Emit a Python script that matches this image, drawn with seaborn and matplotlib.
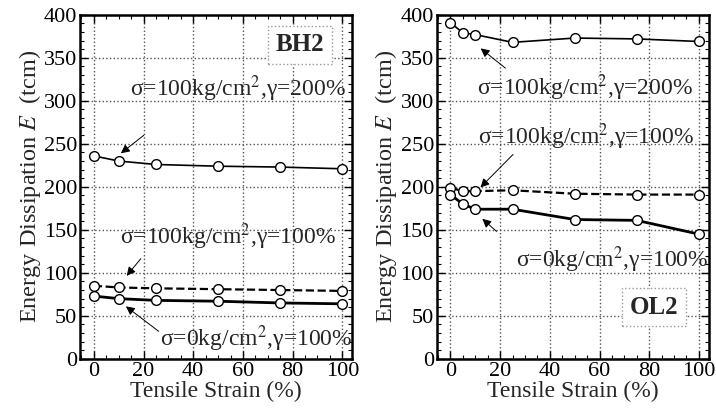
import numpy as np
import pandas as pd
import seaborn as sns
import matplotlib.pyplot as plt
from matplotlib.ticker import MultipleLocator

sns.set_style("ticks")
plt.rcParams['font.family'] = ['Liberation Serif', 'DejaVu Serif']
plt.rcParams['mathtext.fontset'] = 'stix'

# BH2 data
bh2_strain = [0, 10, 25, 50, 75, 100]
bh2_s100_g200 = [236, 230, 226, 224, 223, 221]
bh2_s100_g100 = [85, 83, 82, 81, 80, 79]
bh2_s0_g100 = [73, 70, 68, 67, 65, 64]

# OL2 data
ol2_strain = [0, 5, 10, 25, 50, 75, 100]
ol2_s100_g200 = [391, 379, 377, 368, 373, 372, 369]
ol2_s100_g100 = [199, 195, 195, 196, 192, 191, 191]
ol2_s0_g100 = [191, 180, 174, 174, 162, 161, 145]

lab_200 = r'σ=100kg/cm$^2$,γ=200%'
lab_100 = r'σ=100kg/cm$^2$,γ=100%'
lab_0 = r'σ=0kg/cm$^2$,γ=100%'

fig = plt.figure(figsize=(7.16, 4.12), dpi=100)
ax1 = fig.add_axes([0.112, 0.129, 0.380, 0.835])
ax2 = fig.add_axes([0.610, 0.129, 0.380, 0.835])

mk = dict(marker='o', markersize=7, markerfacecolor='white',
          markeredgecolor='black', markeredgewidth=1.0, color='black')


def draw(ax, x, a, b, c):
    sns.lineplot(x=x, y=a, ax=ax, linewidth=1.2, **mk)
    sns.lineplot(x=x, y=b, ax=ax, linewidth=1.6, linestyle='--', **mk)
    sns.lineplot(x=x, y=c, ax=ax, linewidth=2.0, **mk)
    ax.set_xlim(-5.5, 104)
    ax.set_ylim(0, 400)
    ax.xaxis.set_major_locator(MultipleLocator(20))
    ax.xaxis.set_minor_locator(MultipleLocator(5))
    ax.yaxis.set_major_locator(MultipleLocator(50))
    ax.yaxis.set_minor_locator(MultipleLocator(10))
    ax.tick_params(which='both', direction='in', top=True, right=True,
                   labelsize=16, pad=2, colors='black')
    ax.tick_params(which='major', length=6, width=1)
    ax.tick_params(which='minor', length=3, width=0.8)
    ax.grid(True, which='major', linestyle=':', color='#555555', linewidth=1.0)
    for s in ax.spines.values():
        s.set_linewidth(1.8)
        s.set_color('black')
    ax.set_xlabel('Tensile Strain (%)', fontsize=17, labelpad=0)
    ax.set_ylabel(r'Energy Dissipation $E$  (tcm)', fontsize=17.5, labelpad=1)


arrow = dict(arrowstyle='-|>', color='black', lw=0.7, mutation_scale=13)
fs = 17

draw(ax1, bh2_strain, bh2_s100_g200, bh2_s100_g100, bh2_s0_g100)
ax1.text(14.5, 314, lab_200, fontsize=fs, va='center', ha='left')
ax1.annotate('', xy=(10, 237), xytext=(21, 262), arrowprops=arrow)
ax1.text(10.5, 142, lab_100, fontsize=fs, va='center', ha='left')
ax1.annotate('', xy=(12.5, 94), xytext=(19.6, 119), arrowprops=arrow)
ax1.text(26.5, 23, lab_0, fontsize=fs, va='center', ha='left')
ax1.annotate('', xy=(12, 63), xytext=(27, 30), arrowprops=arrow)
ax1.text(83, 365, 'BH2', fontsize=18, fontweight='bold', ha='center', va='center',
         bbox=dict(boxstyle='square,pad=0.3', fc='white', ec='#999999', ls=':'))

draw(ax2, ol2_strain, ol2_s100_g200, ol2_s100_g100, ol2_s0_g100)
ax2.text(10.5, 315, lab_200, fontsize=fs, va='center', ha='left')
ax2.annotate('', xy=(11.3, 363), xytext=(23, 336), arrowprops=arrow)
ax2.text(11, 258, lab_100, fontsize=fs, va='center', ha='left')
ax2.annotate('', xy=(11.3, 197), xytext=(26, 240), arrowprops=arrow)
ax2.text(26.5, 115, lab_0, fontsize=fs, va='center', ha='left')
ax2.annotate('', xy=(12, 165), xytext=(19.4, 146), arrowprops=arrow)
ax2.text(82, 60, 'OL2', fontsize=18, fontweight='bold', ha='center', va='center',
         bbox=dict(boxstyle='square,pad=0.3', fc='white', ec='#999999', ls=':'))

fig.savefig('out.png', dpi=100)
